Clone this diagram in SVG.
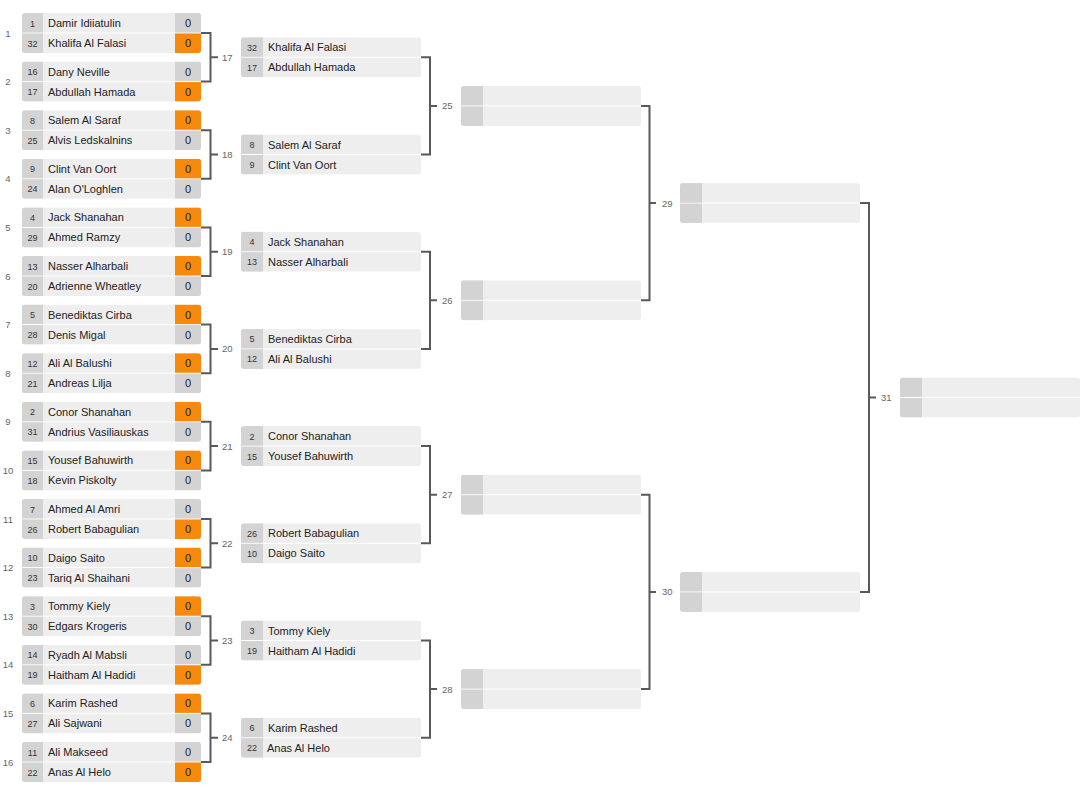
<svg xmlns="http://www.w3.org/2000/svg" width="1092" height="792" viewBox="0 0 1092 792">
<style>
text{font-family:"Liberation Sans",Arial,sans-serif}
.nb{fill:#eeeeee}
.sd{fill:#d3d3d3}
.sg{fill:#d3d3d3}
.so{fill:#f7890c}
.seed{font-size:9px;fill:#333;text-anchor:middle}
.nm{font-size:11px;fill:#222}
.sc{font-size:11px;fill:#222;text-anchor:middle}
.num{font-size:9.5px;fill:#666;text-anchor:middle}
.lbl{font-size:9.5px;fill:#666}
.con{fill:none;stroke:#595959;stroke-width:2}
</style>
<defs>
<clipPath id="rc" clipPathUnits="objectBoundingBox"><rect width="1" height="1" rx="0.016" ry="0.075"/></clipPath>
<g id="r1box"><rect class="nb" width="179" height="19.5"/><rect class="nb" y="20.5" width="179" height="19.5"/><rect class="sd" width="21" height="19.5"/><rect class="sd" y="20.5" width="21" height="19.5"/></g>
<g id="wbox"><rect class="nb" width="180" height="19.5"/><rect class="nb" y="20.5" width="180" height="19.5"/><rect class="sd" width="22" height="19.5"/><rect class="sd" y="20.5" width="22" height="19.5"/></g>
</defs>
<rect width="1092" height="792" fill="#ffffff"/>

<g id="match-numbers">
<text class="num" x="8" y="36.5">1</text>
<text class="num" x="8" y="85.1">2</text>
<text class="num" x="8" y="133.7">3</text>
<text class="num" x="8" y="182.3">4</text>
<text class="num" x="8" y="230.9">5</text>
<text class="num" x="8" y="279.5">6</text>
<text class="num" x="8" y="328.1">7</text>
<text class="num" x="8" y="376.7">8</text>
<text class="num" x="8" y="425.3">9</text>
<text class="num" x="8" y="473.9">10</text>
<text class="num" x="8" y="522.5">11</text>
<text class="num" x="8" y="571.1">12</text>
<text class="num" x="8" y="619.7">13</text>
<text class="num" x="8" y="668.3">14</text>
<text class="num" x="8" y="716.9">15</text>
<text class="num" x="8" y="765.5">16</text>
</g>

<g id="connectors">
<path class="con" d="M201 33H210.5V81.6H201M210.5 57.3H218"/>
<path class="con" d="M201 130.2H210.5V178.8H201M210.5 154.5H218"/>
<path class="con" d="M201 227.4H210.5V276H201M210.5 251.7H218"/>
<path class="con" d="M201 324.6H210.5V373.2H201M210.5 348.9H218"/>
<path class="con" d="M201 421.8H210.5V470.4H201M210.5 446.1H218"/>
<path class="con" d="M201 519H210.5V567.6H201M210.5 543.3H218"/>
<path class="con" d="M201 616.2H210.5V664.8H201M210.5 640.5H218"/>
<path class="con" d="M201 713.4H210.5V762H201M210.5 737.7H218"/>
<path class="con" d="M421 57.3H430V154.5H421M430 105.9H437"/>
<path class="con" d="M421 251.7H430V348.9H421M430 300.3H437"/>
<path class="con" d="M421 446.1H430V543.3H421M430 494.7H437"/>
<path class="con" d="M421 640.5H430V737.7H421M430 689.1H437"/>
<path class="con" d="M641 105.9H649.5V300.3H641M649.5 203.1H656"/>
<path class="con" d="M641 494.7H649.5V689.1H641M649.5 591.9H656"/>
<path class="con" d="M860 203.1H869V591.9H860M869 397.5H876"/>
<text class="lbl" x="222" y="60.8">17</text>
<text class="lbl" x="222" y="158">18</text>
<text class="lbl" x="222" y="255.2">19</text>
<text class="lbl" x="222" y="352.4">20</text>
<text class="lbl" x="222" y="449.6">21</text>
<text class="lbl" x="222" y="546.8">22</text>
<text class="lbl" x="222" y="644">23</text>
<text class="lbl" x="222" y="741.2">24</text>
<text class="lbl" x="442" y="109.4">25</text>
<text class="lbl" x="442" y="303.8">26</text>
<text class="lbl" x="442" y="498.2">27</text>
<text class="lbl" x="442" y="692.6">28</text>
<text class="lbl" x="662" y="206.6">29</text>
<text class="lbl" x="662" y="595.4">30</text>
<text class="lbl" x="881" y="401">31</text>
</g>

<g id="match-1" transform="translate(22,13)"><g clip-path="url(#rc)"><use href="#r1box"/><rect class="sg" x="153" width="26" height="19.5"/><rect class="so" x="153" y="20.5" width="26" height="19.5"/></g>
<text class="seed" x="10.5" y="13.5">1</text><text class="nm" x="26" y="14">Damir Idiiatulin</text><text class="sc" x="166" y="14">0</text>
<text class="seed" x="10.5" y="33.5">32</text><text class="nm" x="26" y="34">Khalifa Al Falasi</text><text class="sc" x="166" y="34">0</text></g>

<g id="match-2" transform="translate(22,61.6)"><g clip-path="url(#rc)"><use href="#r1box"/><rect class="sg" x="153" width="26" height="19.5"/><rect class="so" x="153" y="20.5" width="26" height="19.5"/></g>
<text class="seed" x="10.5" y="13.5">16</text><text class="nm" x="26" y="14">Dany Neville</text><text class="sc" x="166" y="14">0</text>
<text class="seed" x="10.5" y="33.5">17</text><text class="nm" x="26" y="34">Abdullah Hamada</text><text class="sc" x="166" y="34">0</text></g>

<g id="match-3" transform="translate(22,110.2)"><g clip-path="url(#rc)"><use href="#r1box"/><rect class="so" x="153" width="26" height="19.5"/><rect class="sg" x="153" y="20.5" width="26" height="19.5"/></g>
<text class="seed" x="10.5" y="13.5">8</text><text class="nm" x="26" y="14">Salem Al Saraf</text><text class="sc" x="166" y="14">0</text>
<text class="seed" x="10.5" y="33.5">25</text><text class="nm" x="26" y="34">Alvis Ledskalnins</text><text class="sc" x="166" y="34">0</text></g>

<g id="match-4" transform="translate(22,158.8)"><g clip-path="url(#rc)"><use href="#r1box"/><rect class="so" x="153" width="26" height="19.5"/><rect class="sg" x="153" y="20.5" width="26" height="19.5"/></g>
<text class="seed" x="10.5" y="13.5">9</text><text class="nm" x="26" y="14">Clint Van Oort</text><text class="sc" x="166" y="14">0</text>
<text class="seed" x="10.5" y="33.5">24</text><text class="nm" x="26" y="34">Alan O'Loghlen</text><text class="sc" x="166" y="34">0</text></g>

<g id="match-5" transform="translate(22,207.4)"><g clip-path="url(#rc)"><use href="#r1box"/><rect class="so" x="153" width="26" height="19.5"/><rect class="sg" x="153" y="20.5" width="26" height="19.5"/></g>
<text class="seed" x="10.5" y="13.5">4</text><text class="nm" x="26" y="14">Jack Shanahan</text><text class="sc" x="166" y="14">0</text>
<text class="seed" x="10.5" y="33.5">29</text><text class="nm" x="26" y="34">Ahmed Ramzy</text><text class="sc" x="166" y="34">0</text></g>

<g id="match-6" transform="translate(22,256)"><g clip-path="url(#rc)"><use href="#r1box"/><rect class="so" x="153" width="26" height="19.5"/><rect class="sg" x="153" y="20.5" width="26" height="19.5"/></g>
<text class="seed" x="10.5" y="13.5">13</text><text class="nm" x="26" y="14">Nasser Alharbali</text><text class="sc" x="166" y="14">0</text>
<text class="seed" x="10.5" y="33.5">20</text><text class="nm" x="26" y="34">Adrienne Wheatley</text><text class="sc" x="166" y="34">0</text></g>

<g id="match-7" transform="translate(22,304.6)"><g clip-path="url(#rc)"><use href="#r1box"/><rect class="so" x="153" width="26" height="19.5"/><rect class="sg" x="153" y="20.5" width="26" height="19.5"/></g>
<text class="seed" x="10.5" y="13.5">5</text><text class="nm" x="26" y="14">Benediktas Cirba</text><text class="sc" x="166" y="14">0</text>
<text class="seed" x="10.5" y="33.5">28</text><text class="nm" x="26" y="34">Denis Migal</text><text class="sc" x="166" y="34">0</text></g>

<g id="match-8" transform="translate(22,353.2)"><g clip-path="url(#rc)"><use href="#r1box"/><rect class="so" x="153" width="26" height="19.5"/><rect class="sg" x="153" y="20.5" width="26" height="19.5"/></g>
<text class="seed" x="10.5" y="13.5">12</text><text class="nm" x="26" y="14">Ali Al Balushi</text><text class="sc" x="166" y="14">0</text>
<text class="seed" x="10.5" y="33.5">21</text><text class="nm" x="26" y="34">Andreas Lilja</text><text class="sc" x="166" y="34">0</text></g>

<g id="match-9" transform="translate(22,401.8)"><g clip-path="url(#rc)"><use href="#r1box"/><rect class="so" x="153" width="26" height="19.5"/><rect class="sg" x="153" y="20.5" width="26" height="19.5"/></g>
<text class="seed" x="10.5" y="13.5">2</text><text class="nm" x="26" y="14">Conor Shanahan</text><text class="sc" x="166" y="14">0</text>
<text class="seed" x="10.5" y="33.5">31</text><text class="nm" x="26" y="34">Andrius Vasiliauskas</text><text class="sc" x="166" y="34">0</text></g>

<g id="match-10" transform="translate(22,450.4)"><g clip-path="url(#rc)"><use href="#r1box"/><rect class="so" x="153" width="26" height="19.5"/><rect class="sg" x="153" y="20.5" width="26" height="19.5"/></g>
<text class="seed" x="10.5" y="13.5">15</text><text class="nm" x="26" y="14">Yousef Bahuwirth</text><text class="sc" x="166" y="14">0</text>
<text class="seed" x="10.5" y="33.5">18</text><text class="nm" x="26" y="34">Kevin Piskolty</text><text class="sc" x="166" y="34">0</text></g>

<g id="match-11" transform="translate(22,499)"><g clip-path="url(#rc)"><use href="#r1box"/><rect class="sg" x="153" width="26" height="19.5"/><rect class="so" x="153" y="20.5" width="26" height="19.5"/></g>
<text class="seed" x="10.5" y="13.5">7</text><text class="nm" x="26" y="14">Ahmed Al Amri</text><text class="sc" x="166" y="14">0</text>
<text class="seed" x="10.5" y="33.5">26</text><text class="nm" x="26" y="34">Robert Babagulian</text><text class="sc" x="166" y="34">0</text></g>

<g id="match-12" transform="translate(22,547.6)"><g clip-path="url(#rc)"><use href="#r1box"/><rect class="so" x="153" width="26" height="19.5"/><rect class="sg" x="153" y="20.5" width="26" height="19.5"/></g>
<text class="seed" x="10.5" y="13.5">10</text><text class="nm" x="26" y="14">Daigo Saito</text><text class="sc" x="166" y="14">0</text>
<text class="seed" x="10.5" y="33.5">23</text><text class="nm" x="26" y="34">Tariq Al Shaihani</text><text class="sc" x="166" y="34">0</text></g>

<g id="match-13" transform="translate(22,596.2)"><g clip-path="url(#rc)"><use href="#r1box"/><rect class="so" x="153" width="26" height="19.5"/><rect class="sg" x="153" y="20.5" width="26" height="19.5"/></g>
<text class="seed" x="10.5" y="13.5">3</text><text class="nm" x="26" y="14">Tommy Kiely</text><text class="sc" x="166" y="14">0</text>
<text class="seed" x="10.5" y="33.5">30</text><text class="nm" x="26" y="34">Edgars Krogeris</text><text class="sc" x="166" y="34">0</text></g>

<g id="match-14" transform="translate(22,644.8)"><g clip-path="url(#rc)"><use href="#r1box"/><rect class="sg" x="153" width="26" height="19.5"/><rect class="so" x="153" y="20.5" width="26" height="19.5"/></g>
<text class="seed" x="10.5" y="13.5">14</text><text class="nm" x="26" y="14">Ryadh Al Mabsli</text><text class="sc" x="166" y="14">0</text>
<text class="seed" x="10.5" y="33.5">19</text><text class="nm" x="26" y="34">Haitham Al Hadidi</text><text class="sc" x="166" y="34">0</text></g>

<g id="match-15" transform="translate(22,693.4)"><g clip-path="url(#rc)"><use href="#r1box"/><rect class="so" x="153" width="26" height="19.5"/><rect class="sg" x="153" y="20.5" width="26" height="19.5"/></g>
<text class="seed" x="10.5" y="13.5">6</text><text class="nm" x="26" y="14">Karim Rashed</text><text class="sc" x="166" y="14">0</text>
<text class="seed" x="10.5" y="33.5">27</text><text class="nm" x="26" y="34">Ali Sajwani</text><text class="sc" x="166" y="34">0</text></g>

<g id="match-16" transform="translate(22,742)"><g clip-path="url(#rc)"><use href="#r1box"/><rect class="sg" x="153" width="26" height="19.5"/><rect class="so" x="153" y="20.5" width="26" height="19.5"/></g>
<text class="seed" x="10.5" y="13.5">11</text><text class="nm" x="26" y="14">Ali Makseed</text><text class="sc" x="166" y="14">0</text>
<text class="seed" x="10.5" y="33.5">22</text><text class="nm" x="26" y="34">Anas Al Helo</text><text class="sc" x="166" y="34">0</text></g>

<g id="match-17" transform="translate(241,37.3)"><g clip-path="url(#rc)"><use href="#wbox"/></g>
<text class="seed" x="11" y="13.5">32</text><text class="nm" x="27" y="14">Khalifa Al Falasi</text>
<text class="seed" x="11" y="33.5">17</text><text class="nm" x="27" y="34">Abdullah Hamada</text></g>

<g id="match-18" transform="translate(241,134.5)"><g clip-path="url(#rc)"><use href="#wbox"/></g>
<text class="seed" x="11" y="13.5">8</text><text class="nm" x="27" y="14">Salem Al Saraf</text>
<text class="seed" x="11" y="33.5">9</text><text class="nm" x="27" y="34">Clint Van Oort</text></g>

<g id="match-19" transform="translate(241,231.7)"><g clip-path="url(#rc)"><use href="#wbox"/></g>
<text class="seed" x="11" y="13.5">4</text><text class="nm" x="27" y="14">Jack Shanahan</text>
<text class="seed" x="11" y="33.5">13</text><text class="nm" x="27" y="34">Nasser Alharbali</text></g>

<g id="match-20" transform="translate(241,328.9)"><g clip-path="url(#rc)"><use href="#wbox"/></g>
<text class="seed" x="11" y="13.5">5</text><text class="nm" x="27" y="14">Benediktas Cirba</text>
<text class="seed" x="11" y="33.5">12</text><text class="nm" x="27" y="34">Ali Al Balushi</text></g>

<g id="match-21" transform="translate(241,426.1)"><g clip-path="url(#rc)"><use href="#wbox"/></g>
<text class="seed" x="11" y="13.5">2</text><text class="nm" x="27" y="14">Conor Shanahan</text>
<text class="seed" x="11" y="33.5">15</text><text class="nm" x="27" y="34">Yousef Bahuwirth</text></g>

<g id="match-22" transform="translate(241,523.3)"><g clip-path="url(#rc)"><use href="#wbox"/></g>
<text class="seed" x="11" y="13.5">26</text><text class="nm" x="27" y="14">Robert Babagulian</text>
<text class="seed" x="11" y="33.5">10</text><text class="nm" x="27" y="34">Daigo Saito</text></g>

<g id="match-23" transform="translate(241,620.5)"><g clip-path="url(#rc)"><use href="#wbox"/></g>
<text class="seed" x="11" y="13.5">3</text><text class="nm" x="27" y="14">Tommy Kiely</text>
<text class="seed" x="11" y="33.5">19</text><text class="nm" x="27" y="34">Haitham Al Hadidi</text></g>

<g id="match-24" transform="translate(241,717.7)"><g clip-path="url(#rc)"><use href="#wbox"/></g>
<text class="seed" x="11" y="13.5">6</text><text class="nm" x="27" y="14">Karim Rashed</text>
<text class="seed" x="11" y="33.5">22</text><text class="nm" x="26" y="34">Anas Al Helo</text></g>

<g id="match-25" transform="translate(461,85.9)"><g clip-path="url(#rc)"><use href="#wbox"/></g></g>
<g id="match-26" transform="translate(461,280.3)"><g clip-path="url(#rc)"><use href="#wbox"/></g></g>
<g id="match-27" transform="translate(461,474.7)"><g clip-path="url(#rc)"><use href="#wbox"/></g></g>
<g id="match-28" transform="translate(461,669.1)"><g clip-path="url(#rc)"><use href="#wbox"/></g></g>
<g id="match-29" transform="translate(680,183.1)"><g clip-path="url(#rc)"><use href="#wbox"/></g></g>
<g id="match-30" transform="translate(680,571.9)"><g clip-path="url(#rc)"><use href="#wbox"/></g></g>
<g id="match-31" transform="translate(900,377.5)"><g clip-path="url(#rc)"><use href="#wbox"/></g></g>
</svg>
